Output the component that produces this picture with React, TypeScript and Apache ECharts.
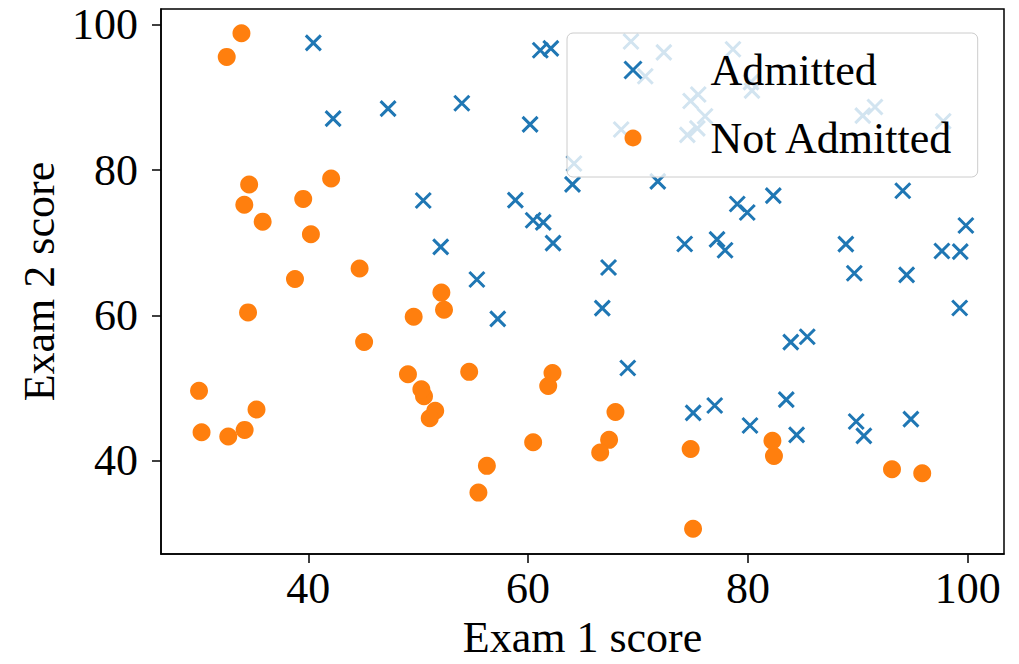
import React, { useEffect, useRef } from "react";
import * as echarts from "echarts";

// Exam 1 score, Exam 2 score
const admitted: [number, number][] = [
  [60.18, 86.31], [79.03, 75.34], [61.11, 96.51], [75.02, 46.55], [76.10, 87.42],
  [84.43, 43.53], [82.31, 76.48], [69.36, 97.72], [53.97, 89.21], [69.07, 52.74],
  [70.66, 92.93], [76.98, 47.58], [89.68, 65.80], [77.92, 68.97], [62.27, 69.95],
  [80.19, 44.82], [61.38, 72.81], [85.40, 57.05], [52.05, 69.43], [64.18, 80.91],
  [83.90, 56.31], [94.44, 65.57], [77.19, 70.46], [97.77, 86.73], [62.07, 96.77],
  [91.56, 88.70], [79.94, 74.16], [99.27, 61.00], [90.55, 43.39], [97.65, 68.86],
  [74.25, 69.82], [71.80, 78.45], [75.40, 85.76], [40.46, 97.54], [80.28, 92.12],
  [66.75, 60.99], [64.04, 78.03], [72.35, 96.23], [60.46, 73.09], [58.84, 75.86],
  [99.83, 72.37], [47.26, 88.48], [50.46, 75.81], [88.91, 69.80], [94.83, 45.69],
  [67.32, 66.59], [57.24, 59.51], [80.37, 90.96], [68.47, 85.59], [75.48, 90.42],
  [78.64, 96.65], [94.09, 77.16], [90.45, 87.51], [74.49, 84.85], [89.85, 45.36],
  [83.49, 48.38], [42.26, 87.10], [99.32, 68.78], [55.34, 64.93], [74.78, 89.53],
];

const notAdmitted: [number, number][] = [
  [34.62, 78.02], [30.29, 43.89], [35.85, 72.90], [45.08, 56.32], [95.86, 38.23],
  [75.01, 30.60], [39.54, 76.04], [67.95, 46.68], [67.37, 42.84], [50.53, 48.86],
  [34.21, 44.21], [93.11, 38.80], [61.83, 50.26], [38.79, 65.00], [52.11, 63.13],
  [40.24, 71.17], [54.64, 52.21], [33.92, 98.87], [74.79, 41.57], [34.18, 75.24],
  [51.55, 46.86], [82.37, 40.62], [51.05, 45.82], [62.22, 52.06], [34.52, 60.40],
  [50.29, 49.80], [49.59, 59.81], [32.58, 95.60], [35.29, 47.02], [56.25, 39.26],
  [30.06, 49.59], [44.67, 66.45], [66.56, 41.09], [49.07, 51.88], [32.72, 43.31],
  [60.46, 42.51], [82.23, 42.72], [42.08, 78.84], [52.35, 60.77], [55.48, 35.57],
];

const seriesNames = ["Admitted", "Not Admitted"];
const xTicks = [40, 60, 80, 100];
const yTicks = [40, 60, 80, 100];

const FONT = "'Liberation Serif', 'DejaVu Serif', serif";
const BLUE = "#1f77b4";
const ORANGE = "#ff7f0e";
const X_PATH = "path://M0,0L10,10M10,0L0,10";

export default function App() {
  const ref = useRef<HTMLDivElement>(null);
  useEffect(() => {
    if (!ref.current) return;
    const chart = echarts.init(ref.current, null, { renderer: "svg" });
    const tickStyle = { show: true, inside: false, length: 9, lineStyle: { color: "#000", width: 1.5 } };
    const axisCommon = {
      type: "value" as const,
      splitLine: { show: false },
      axisLine: { show: true, onZero: false, lineStyle: { color: "#000", width: 1.5 } },
      nameLocation: "middle" as const,
      nameTextStyle: { fontFamily: FONT, fontSize: 44, color: "#000" },
    };
    chart.setOption({
      animation: false,
      backgroundColor: "#fff",
      grid: { left: 161, right: 15, top: 9, bottom: 102, show: true, borderColor: "#000", borderWidth: 1.5, backgroundColor: "transparent" },
      xAxis: {
        ...axisCommon,
        min: 26.6,
        max: 103.3,
        name: "Exam 1 score",
        nameGap: 58,
        axisLabel: {
          fontFamily: FONT, fontSize: 44, color: "#000", margin: 12,
          customValues: xTicks,
        },
        axisTick: { ...tickStyle, customValues: xTicks },
      },
      yAxis: {
        ...axisCommon,
        min: 27.1,
        max: 102.2,
        name: "Exam 2 score",
        nameGap: 98,
        axisLabel: {
          fontFamily: FONT, fontSize: 44, color: "#000", margin: 23,
          customValues: yTicks,
        },
        axisTick: { ...tickStyle, customValues: yTicks },
      },
      legend: {
        orient: "vertical",
        left: 567,
        top: 33,
        padding: [15, 24, 17, 56],
        itemGap: 24,
        itemWidth: 17,
        itemHeight: 17,
        backgroundColor: "rgba(255,255,255,0.8)",
        borderColor: "#cccccc",
        borderWidth: 1,
        borderRadius: 6,
        textStyle: { fontFamily: FONT, fontSize: 44, lineHeight: 44, color: "#000", padding: [0, 0, 0, 64] },
        data: [
          { name: seriesNames[0], itemStyle: { color: "rgba(0,0,0,0)", borderColor: BLUE, borderWidth: 3 } },
          { name: seriesNames[1], itemStyle: { color: ORANGE, borderWidth: 0 } },
        ],
      },
      series: [
        {
          name: seriesNames[0],
          type: "scatter",
          data: admitted,
          symbol: X_PATH,
          symbolSize: 15,
          itemStyle: { color: "rgba(0,0,0,0)", borderColor: BLUE, borderWidth: 3, opacity: 1 },
          emphasis: { disabled: true },
        },
        {
          name: seriesNames[1],
          type: "scatter",
          data: notAdmitted,
          symbol: "circle",
          symbolSize: 18,
          itemStyle: { color: ORANGE, opacity: 1 },
          emphasis: { disabled: true },
        },
      ],
    });
    return () => chart.dispose();
  }, []);
  return (
    <div
      ref={ref}
      style={{ position: "absolute", left: 0, top: 0, width: 1019, height: 664 }}
    />
  );
}
